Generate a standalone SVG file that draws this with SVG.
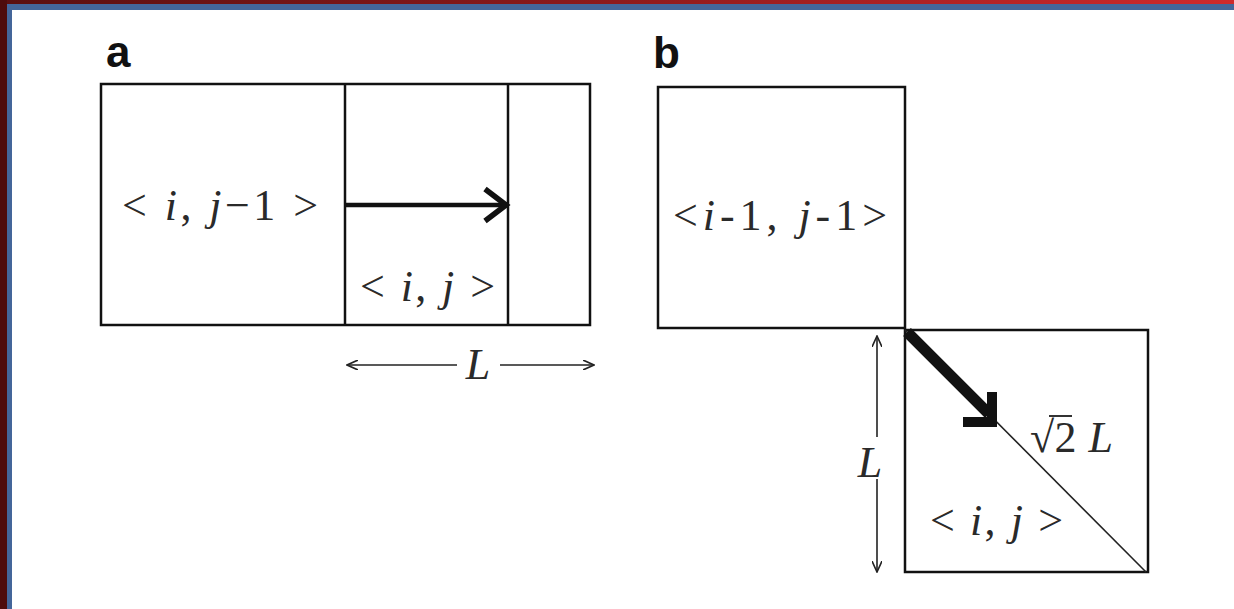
<svg xmlns="http://www.w3.org/2000/svg" width="1234" height="609" viewBox="0 0 1234 609">
<style>
.box{fill:none;stroke:#111;stroke-width:2.5}
.thin{fill:none;stroke:#222;stroke-width:1.6}
.t{font-family:"Liberation Serif",serif;font-size:44px;fill:#2a2a2a}
.it{font-style:italic}
.lbl{font-family:"Liberation Sans",Arial,sans-serif;font-weight:bold;font-size:44px;fill:#111}
</style>
<defs>
<linearGradient id="topg" x1="0" y1="0" x2="1" y2="0">
<stop offset="0" stop-color="#5a0f10"/>
<stop offset="0.5" stop-color="#8e1a1c"/>
<stop offset="1" stop-color="#cf2a2c"/>
</linearGradient>
<marker id="dim" viewBox="0 0 12 10" refX="11" refY="5" markerWidth="12" markerHeight="10" markerUnits="userSpaceOnUse" orient="auto-start-reverse">
<path d="M0,0 L11,5 L0,10" fill="none" stroke="#222" stroke-width="1.6"/>
</marker>
</defs>
<rect x="0" y="0" width="1234" height="609" fill="#fff"/>
<rect x="0" y="0" width="1234" height="4" fill="url(#topg)"/>
<rect x="0" y="0" width="7" height="609" fill="#4e0c0c"/>
<rect x="7" y="4" width="1227" height="6" fill="#44669a"/>
<rect x="7" y="4" width="5" height="605" fill="#44669a"/>

<g id="panel-a">
<text class="lbl" x="106" y="67">a</text>
<rect class="box" x="101" y="84" width="489" height="241"/>
<line class="box" x1="345" y1="84" x2="345" y2="325"/>
<line class="box" x1="508" y1="84" x2="508" y2="325"/>
</g>
<g id="node-i-j-1">
<text class="t" x="122" y="220" textLength="196" lengthAdjust="spacing">&lt; <tspan class="it">i</tspan>, <tspan class="it">j</tspan>−1 &gt;</text>
</g>
<g id="node-i-j-a">
<text class="t" x="360" y="301" textLength="135" lengthAdjust="spacing">&lt; <tspan class="it">i</tspan>, <tspan class="it">j</tspan> &gt;</text>
</g>

<g id="panel-b">
<text class="lbl" x="653" y="68">b</text>
<rect class="box" x="658" y="87" width="247" height="241"/>
<rect class="box" x="905" y="330" width="243" height="242"/>
<line class="thin" x1="905" y1="330" x2="1146" y2="572"/>
</g>
<g id="node-i1-j1">
<text class="t" x="673" y="230" textLength="214" lengthAdjust="spacing">&lt;<tspan class="it">i</tspan>-1, <tspan class="it">j</tspan>-1&gt;</text>
</g>
<g id="node-i-j-b">
<text class="t" x="930" y="535" textLength="133" lengthAdjust="spacing">&lt; <tspan class="it">i</tspan>, <tspan class="it">j</tspan> &gt;</text>
</g>

<g id="connectors">
<line x1="346" y1="205" x2="505" y2="205" stroke="#111" stroke-width="4.5"/>
<path d="M485,189 L506,205 L485,221" fill="none" stroke="#111" stroke-width="5.5" stroke-linejoin="miter"/>
<line x1="907" y1="332" x2="989" y2="414" stroke="#111" stroke-width="11"/>
<path d="M992,392 L992,422 L963,422" fill="none" stroke="#111" stroke-width="10" stroke-linejoin="miter"/>
<line class="thin" x1="347" y1="365" x2="457" y2="365" marker-start="url(#dim)"/>
<line class="thin" x1="500" y1="365" x2="594" y2="365" marker-end="url(#dim)"/>
<line class="thin" x1="877" y1="336" x2="877" y2="437" marker-start="url(#dim)"/>
<line class="thin" x1="877" y1="479" x2="877" y2="572" marker-end="url(#dim)"/>
</g>
<g id="labels">
<text class="t it" x="478" y="379" text-anchor="middle">L</text>
<text class="t it" x="870" y="477" text-anchor="middle">L</text>
<text class="t" x="1030" y="452" textLength="83" lengthAdjust="spacing">√2 <tspan class="it">L</tspan></text>
<line x1="1049" y1="416" x2="1072" y2="416" stroke="#333" stroke-width="2"/>
</g>
</svg>
